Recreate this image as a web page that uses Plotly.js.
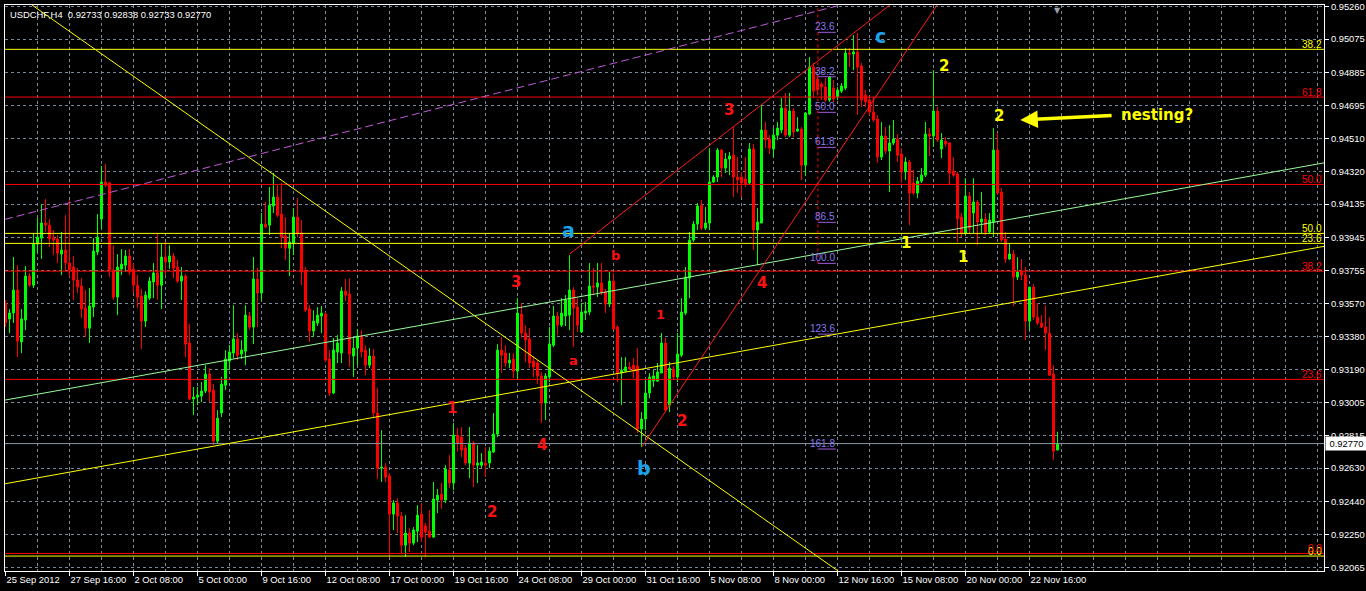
<!DOCTYPE html>
<html><head><meta charset="utf-8">
<script src="https://cdn.plot.ly/plotly-3.0.1.min.js"></script>
<style>html,body{margin:0;padding:0;background:#000;overflow:hidden}#chart{width:1366px;height:591px}</style>
</head><body><div id="chart"></div>
<script>
// ---------- DATA ----------
const tickBars = [0,16,32,48,64,80,96,112,128,144,160,176,192,208,224,240,256];
const tickLabels = ['25 Sep 2012','27 Sep 16:00','2 Oct 08:00','5 Oct 00:00','9 Oct 16:00','12 Oct 08:00','17 Oct 00:00','19 Oct 16:00','24 Oct 08:00','29 Oct 00:00','31 Oct 16:00','5 Nov 08:00','8 Nov 00:00','12 Nov 16:00','15 Nov 08:00','20 Nov 00:00','22 Nov 16:00'];
const gridBars = [8,24,40,56,72,88,104,120,136,152,168,184,200,216,232,248,264,272,280,288,296,304,312,320,328];
const priceTicks = [0.95260,0.95075,0.94885,0.94695,0.94510,0.94320,0.94135,0.93945,0.93755,0.93570,0.93380,0.93190,0.93005,0.92815,0.92630,0.92440,0.92250,0.92065];

const open = [
0.93571,0.93480,0.93514,0.93645,0.93349,0.93474,0.93725,0.93673,0.93907,0.93941,
0.94027,0.94015,0.93941,0.93936,0.93850,0.93873,0.93799,0.93776,0.93702,0.93668,
0.93542,0.93428,0.93548,0.93862,0.94050,0.94261,0.94255,0.93759,0.93605,0.93765,
0.93787,0.93839,0.93765,0.93673,0.93611,0.93468,0.93599,0.93691,0.93742,0.93673,
0.93833,0.93805,0.93839,0.93776,0.93696,0.93725,0.93343,0.93024,0.93035,0.93041,
0.93069,0.93166,0.93075,0.92784,0.92944,0.93103,0.93240,0.93286,0.93366,0.93280,
0.93297,0.93497,0.93434,0.93708,0.93628,0.94021,0.94015,0.94124,0.94175,0.94078,
0.93953,0.93884,0.93913,0.94061,0.93970,0.93759,0.93537,0.93411,0.93457,0.93497,
0.93508,0.93252,0.93058,0.93292,0.93286,0.93639,0.93622,0.93269,0.93314,0.93383,
0.93303,0.93217,0.93269,0.92944,0.92630,0.92636,0.92585,0.92368,0.92431,0.92357,
0.92191,0.92260,0.92203,0.92271,0.92368,0.92300,0.92271,0.92237,0.92448,0.92482,
0.92448,0.92619,0.92545,0.92818,0.92807,0.92744,0.92659,0.92773,0.92647,0.92647,
0.92659,0.92659,0.92722,0.92824,0.93303,0.93286,0.93229,0.93252,0.93183,0.93508,
0.93400,0.93366,0.93240,0.93229,0.93155,0.93001,0.93149,0.93331,0.93497,0.93445,
0.93497,0.93502,0.93645,0.93548,0.93406,0.93514,0.93520,0.93668,0.93662,0.93685,
0.93634,0.93565,0.93696,0.93434,0.93172,0.93183,0.93206,0.93217,0.93212,0.92853,
0.92910,0.93058,0.93126,0.93126,0.93172,0.93343,0.92989,0.93195,0.93149,0.93274,
0.93514,0.93713,0.93930,0.94021,0.94129,0.93998,0.94027,0.94261,0.94289,0.94443,
0.94340,0.94392,0.94414,0.94289,0.94289,0.94278,0.94255,0.94449,0.93987,0.94027,
0.94557,0.94506,0.94449,0.94528,0.94557,0.94682,0.94528,0.94665,0.94551,0.94563,
0.94357,0.94648,0.94916,0.94848,0.94819,0.94802,0.94728,0.94796,0.94745,0.94779,
0.94796,0.94996,0.94990,0.95002,0.94922,0.94756,0.94728,0.94660,0.94620,0.94403,
0.94523,0.94437,0.94483,0.94506,0.94420,0.94318,0.94375,0.94255,0.94198,0.94266,
0.94300,0.94534,0.94523,0.94665,0.94449,0.94494,0.94483,0.94323,0.94306,0.94061,
0.93970,0.94181,0.94084,0.94147,0.94033,0.94050,0.93976,0.94033,0.94443,0.94204,
0.93936,0.93822,0.93850,0.93719,0.93753,0.93730,0.93468,0.93662,0.93491,0.93457,
0.93434,0.93400,0.93166,0.92733];

const high = [
0.93588,0.93537,0.93833,0.93787,0.93537,0.93782,0.93742,0.93970,0.94055,0.94135,
0.94164,0.94050,0.93987,0.93958,0.93976,0.94072,0.94158,0.93839,0.93770,0.93713,
0.93645,0.93656,0.93941,0.94078,0.94352,0.94363,0.94261,0.93901,0.93850,0.93879,
0.93873,0.93879,0.93799,0.93730,0.93651,0.93639,0.93719,0.93799,0.93964,0.93907,
0.93919,0.93901,0.93856,0.93816,0.93776,0.93736,0.93451,0.93092,0.93092,0.93121,
0.93217,0.93200,0.93109,0.92961,0.93149,0.93303,0.93331,0.93559,0.93400,0.93360,
0.93559,0.93520,0.93833,0.93770,0.94084,0.94147,0.94232,0.94312,0.94243,0.94255,
0.94061,0.93970,0.94112,0.94169,0.94044,0.93776,0.93559,0.93531,0.93548,0.93554,
0.93520,0.93303,0.93371,0.93388,0.93662,0.93708,0.93713,0.93371,0.93423,0.93417,
0.93331,0.93314,0.93309,0.93086,0.92847,0.92659,0.92602,0.92448,0.92459,0.92380,
0.92362,0.92288,0.92294,0.92419,0.92431,0.92317,0.92391,0.92551,0.92511,0.92545,
0.92647,0.92704,0.92887,0.92858,0.92864,0.92761,0.92864,0.92784,0.92761,0.92716,
0.92750,0.92750,0.92944,0.93337,0.93377,0.93331,0.93286,0.93286,0.93599,0.93571,
0.93445,0.93428,0.93269,0.93246,0.93178,0.93172,0.93434,0.93554,0.93520,0.93599,
0.93616,0.93844,0.93662,0.93599,0.93571,0.93577,0.93799,0.93770,0.93799,0.93799,
0.93651,0.93748,0.93742,0.93445,0.93263,0.93263,0.93235,0.93257,0.93314,0.92950,
0.93132,0.93172,0.93189,0.93229,0.93400,0.93371,0.93235,0.93212,0.93400,0.93599,
0.93776,0.93976,0.94038,0.94141,0.94158,0.94118,0.94454,0.94300,0.94454,0.94449,
0.94426,0.94432,0.94574,0.94403,0.94318,0.94403,0.94483,0.94477,0.94112,0.94699,
0.94603,0.94528,0.94568,0.94603,0.94739,0.94768,0.94768,0.94682,0.94631,0.94574,
0.94660,0.94973,0.94939,0.94870,0.94831,0.94853,0.94865,0.94842,0.94802,0.94825,
0.95024,0.95024,0.95098,0.95110,0.94939,0.94785,0.94745,0.94745,0.94642,0.94603,
0.94574,0.94585,0.94614,0.94534,0.94454,0.94403,0.94386,0.94329,0.94289,0.94340,
0.94603,0.94568,0.94899,0.94688,0.94540,0.94517,0.94489,0.94403,0.94318,0.94084,
0.94283,0.94204,0.94283,0.94158,0.94204,0.94084,0.94084,0.94568,0.94540,0.94226,
0.93976,0.93913,0.93873,0.93833,0.93822,0.93776,0.93662,0.93679,0.93571,0.93502,
0.93559,0.93491,0.93217,0.92838];

const low = [
0.93434,0.93400,0.93457,0.93263,0.93286,0.93417,0.93662,0.93656,0.93856,0.93822,
0.93976,0.93890,0.93844,0.93799,0.93730,0.93759,0.93719,0.93588,0.93628,0.93485,
0.93377,0.93343,0.93491,0.93844,0.93993,0.94232,0.93719,0.93588,0.93502,0.93730,
0.93748,0.93730,0.93628,0.93542,0.93309,0.93434,0.93588,0.93599,0.93588,0.93537,
0.93730,0.93765,0.93713,0.93685,0.93588,0.93263,0.93018,0.92932,0.92989,0.93007,
0.93058,0.93007,0.92761,0.92767,0.92921,0.93075,0.93189,0.93257,0.93246,0.93252,
0.93217,0.93417,0.93337,0.93434,0.93582,0.93998,0.93958,0.94084,0.94061,0.93884,
0.93816,0.93725,0.93844,0.93947,0.93673,0.93520,0.93349,0.93377,0.93440,0.93400,
0.93235,0.93041,0.93052,0.93229,0.93229,0.93582,0.93206,0.93149,0.93217,0.93263,
0.93160,0.93200,0.92921,0.92568,0.92551,0.92551,0.92123,0.92277,0.92260,0.92146,
0.92123,0.92152,0.92191,0.92209,0.92209,0.92123,0.92231,0.92231,0.92374,0.92397,
0.92431,0.92516,0.92505,0.92722,0.92693,0.92647,0.92573,0.92522,0.92545,0.92630,
0.92579,0.92630,0.92716,0.92807,0.93172,0.93206,0.93200,0.93143,0.93132,0.93371,
0.93235,0.93200,0.93149,0.93109,0.92887,0.92904,0.93121,0.93320,0.93388,0.93434,
0.93440,0.93417,0.93320,0.93406,0.93400,0.93474,0.93502,0.93616,0.93605,0.93616,
0.93514,0.93548,0.93417,0.93121,0.92989,0.93178,0.93189,0.93143,0.92830,0.92750,
0.92847,0.93029,0.93092,0.93121,0.93172,0.92950,0.92950,0.93132,0.93121,0.93263,
0.93502,0.93599,0.93919,0.93987,0.93987,0.93987,0.93987,0.94255,0.94261,0.94289,
0.94312,0.94300,0.94175,0.94198,0.94175,0.94232,0.94249,0.93873,0.93787,0.94027,
0.94454,0.94420,0.94403,0.94500,0.94540,0.94517,0.94517,0.94517,0.94546,0.94272,
0.94300,0.94642,0.94739,0.94756,0.94728,0.94717,0.94717,0.94717,0.94728,0.94768,
0.94785,0.94916,0.94899,0.94642,0.94688,0.94688,0.94642,0.94603,0.94369,0.94386,
0.94420,0.94204,0.94471,0.94375,0.94255,0.94272,0.94015,0.94186,0.94169,0.94255,
0.94289,0.94409,0.94460,0.94489,0.94397,0.94460,0.94249,0.94289,0.93919,0.93947,
0.93958,0.93970,0.93970,0.93901,0.93970,0.93958,0.93970,0.93947,0.94186,0.93919,
0.93799,0.93816,0.93554,0.93702,0.93702,0.93360,0.93417,0.93474,0.93445,0.93428,
0.93303,0.93155,0.92676,0.92733];

const close = [
0.93457,0.93514,0.93645,0.93354,0.93480,0.93725,0.93673,0.93907,0.93947,0.94027,
0.94015,0.93936,0.93930,0.93856,0.93873,0.93799,0.93759,0.93702,0.93662,0.93537,
0.93428,0.93554,0.93867,0.93947,0.94261,0.94243,0.93759,0.93605,0.93776,0.93793,
0.93839,0.93748,0.93673,0.93605,0.93468,0.93616,0.93696,0.93742,0.93673,0.93833,
0.93805,0.93839,0.93770,0.93696,0.93725,0.93337,0.93024,0.93035,0.93046,0.93069,
0.93166,0.93064,0.92784,0.92915,0.93109,0.93252,0.93292,0.93366,0.93274,0.93303,
0.93502,0.93434,0.93708,0.93628,0.94021,0.94004,0.94129,0.94175,0.94072,0.93947,
0.93884,0.93919,0.94061,0.93970,0.93748,0.93531,0.93411,0.93468,0.93502,0.93514,
0.93246,0.93058,0.93303,0.93343,0.93639,0.93616,0.93280,0.93314,0.93383,0.93292,
0.93217,0.93269,0.92944,0.92630,0.92636,0.92579,0.92368,0.92431,0.92357,0.92191,
0.92260,0.92203,0.92277,0.92362,0.92237,0.92266,0.92237,0.92454,0.92476,0.92448,
0.92625,0.92545,0.92818,0.92773,0.92733,0.92659,0.92773,0.92647,0.92659,0.92665,
0.92647,0.92727,0.92824,0.93303,0.93274,0.93229,0.93246,0.93183,0.93514,0.93400,
0.93360,0.93229,0.93206,0.93155,0.93001,0.93155,0.93337,0.93497,0.93445,0.93514,
0.93588,0.93645,0.93542,0.93445,0.93520,0.93525,0.93668,0.93662,0.93685,0.93628,
0.93565,0.93696,0.93423,0.93172,0.93189,0.93206,0.93195,0.93183,0.92853,0.92910,
0.93058,0.93149,0.93155,0.93178,0.93343,0.92961,0.93200,0.93149,0.93280,0.93520,
0.93719,0.93930,0.94021,0.94124,0.93998,0.94027,0.94261,0.94289,0.94443,0.94340,
0.94392,0.94409,0.94289,0.94272,0.94255,0.94249,0.94449,0.93987,0.94033,0.94557,
0.94500,0.94454,0.94528,0.94568,0.94682,0.94528,0.94665,0.94546,0.94563,0.94357,
0.94654,0.94916,0.94779,0.94785,0.94802,0.94728,0.94859,0.94734,0.94785,0.94808,
0.94996,0.94990,0.95002,0.94916,0.94728,0.94717,0.94660,0.94614,0.94403,0.94523,
0.94437,0.94483,0.94506,0.94414,0.94318,0.94375,0.94198,0.94198,0.94266,0.94300,
0.94534,0.94523,0.94665,0.94500,0.94500,0.94477,0.94312,0.94300,0.94050,0.93970,
0.94181,0.93998,0.94147,0.94033,0.94050,0.93976,0.94044,0.94443,0.94198,0.93930,
0.93822,0.93850,0.93719,0.93748,0.93730,0.93468,0.93662,0.93491,0.93457,0.93434,
0.93400,0.93160,0.92727,0.92770];

// Fibonacci level sets
const yellowFibLevels = ['38.2','50.0','23.6','0.0'];
const yellowFibPrices = [0.95017,0.93968,0.93911,0.92129];
const redFibLevels = ['61.8','50.0','38.2','23.6','0.0'];
const redFibPrices = [0.94745,0.94247,0.93753,0.93136,0.92144];
const purpleFibLevels = ['23.6','38.2','50.0','61.8','86.5','100.0','123.6','161.8'];
const purpleFibPrices = [0.95114,0.94861,0.94658,0.94458,0.94031,0.93797,0.93394,0.92739];
const purpleFibBars = [203.1, 207.6];

// Trend lines: [bar, price] pairs
const yellowDownLine = [[6.6,0.95270],[208.2,0.92043]];
const greenChannelLine = [[-0.125,0.93018],[329.625,0.94370]];
const yellowUpLine = [[-0.125,0.92541],[329.625,0.93894]];
const purpleDashLine = [[-0.125,0.94048],[208.9,0.95270]];
const redUpperLine = [[141.0,0.93850],[221.1,0.95270]];
const redLowerLine = [[159.1,0.92752],[232.9,0.95270]];
const bidPrice = 0.92770;

// Wave labels
const redBigText = ['3','4','1','2','2','3','4'];
const redBigBars = [127.7,134.1,111.6,121.7,169.1,180.75,189.1];
const redBigPrices = [0.93692,0.92761,0.92971,0.92380,0.92900,0.94671,0.93687];
const redSmallText = ['a','b','1'];
const redSmallBars = [142.0,152.4,163.85];
const redSmallPrices = [0.93246,0.93844,0.93506];
const blueText = ['a','b','c'];
const blueBars = [140.7,159.7,218.7];
const bluePrices = [0.93987,0.92630,0.95093];
const yellowText = ['2','2','1','1'];
const yellowBars = [234.7,248.3,225.2,239.35];
const yellowPrices = [0.94922,0.94637,0.93913,0.93831];
const noteText = 'nesting?';
const notePos = [287.9, 0.94643];
const arrowHead = [253.7, 0.94614];
const arrowTail = [276.9, 0.94640];
const headerText = 'USDCHF,H4\u00a0\u00a00.92733 0.92838 0.92733 0.92770';

// ---------- CHART ----------
const bars = open.map((_, i) => i);
const GRID = '#778899';
const AXFONT = {family:'Liberation Sans, Arial, sans-serif', size:9.4, color:'#ffffff'};

const candle = {
  type:'candlestick', x:bars, open:open, high:high, low:low, close:close,
  increasing:{line:{color:'#00ff00', width:1}, fillcolor:'#00ff00'},
  decreasing:{line:{color:'#ff0000', width:1}, fillcolor:'#ff0000'},
  whiskerwidth:0, hoverinfo:'skip', showlegend:false
};

const shapes = [];
function line(x0,y0,x1,y1,color,dash,xref){
  shapes.push({type:'line', xref:xref||'x', yref:'y', x0:x0, y0:y0, x1:x1, y1:y1,
    line:{color:color, width:1, dash:dash||'solid'}, layer:'above'});
}
line(0,bidPrice,1,bidPrice,'#8a96a3','solid','paper');
yellowFibPrices.forEach(p => line(0,p,1,p,'#ffff00','solid','paper'));
redFibPrices.forEach(p => line(0,p,1,p,'#ff0000','solid','paper'));
purpleFibPrices.forEach(p => line(purpleFibBars[0],p,purpleFibBars[1],p,'#a05ad8'));
line(purpleFibBars[0],purpleFibPrices[5],purpleFibBars[0],0.9535,'#ff0000','3px,3px');
[[yellowDownLine,'#ffff00','solid'],[greenChannelLine,'#98fb98','solid'],[yellowUpLine,'#ffff00','solid'],
 [purpleDashLine,'#c05ad8','8px,4px'],[redUpperLine,'#ff1a1a','solid'],[redLowerLine,'#ff1a1a','solid']]
 .forEach(([pts,c,d]) => line(pts[0][0],pts[0][1],pts[1][0],pts[1][1],c,d));

const ann = [];
function fibLabel(text,price,color){
  ann.push({xref:'paper', yref:'y', x:1, y:price, xanchor:'right', yanchor:'bottom', xshift:-1, yshift:-2,
    text:text, showarrow:false, font:{family:'Liberation Sans, Arial', size:10, color:color}, borderpad:0});
}
yellowFibLevels.forEach((t,i) => fibLabel(t,yellowFibPrices[i],'#ffff00'));
redFibLevels.forEach((t,i) => fibLabel(t,redFibPrices[i],'#ff0000'));
purpleFibLevels.forEach((t,i) => ann.push({xref:'x', yref:'y', x:purpleFibBars[1], y:purpleFibPrices[i],
  xanchor:'right', yanchor:'bottom', yshift:-1, text:t, showarrow:false, borderpad:0,
  font:{family:'Liberation Sans, Arial', size:10, color:'#8878f0'}}));

function waveLabels(texts,bx,py,color,size){
  texts.forEach((t,i) => ann.push({xref:'x', yref:'y', x:bx[i], y:py[i], xanchor:'center', yanchor:'middle',
    text:t, showarrow:false, font:{family:'DejaVu Sans, sans-serif', size:size, color:color, weight:'bold'}}));
}
waveLabels(redBigText, redBigBars, redBigPrices, '#ff1010', 15);
waveLabels(redSmallText, redSmallBars, redSmallPrices, '#ff1010', 13);
waveLabels(blueText, blueBars, bluePrices, '#1ca3ec', 19);
waveLabels(yellowText, yellowBars, yellowPrices, '#ffff00', 15);
ann.push({xref:'x', yref:'y', x:notePos[0], y:notePos[1], xanchor:'center', yanchor:'middle', text:noteText,
  showarrow:false, font:{family:'DejaVu Sans, sans-serif', size:15, color:'#ffff00', weight:'bold'}});
ann.push({xref:'x', yref:'y', x:arrowHead[0], y:arrowHead[1], axref:'x', ayref:'y', ax:arrowTail[0], ay:arrowTail[1],
  text:'', showarrow:true, arrowhead:2, arrowsize:1, arrowwidth:3.5, arrowcolor:'#ffff00', standoff:0});
ann.push({xref:'paper', yref:'paper', x:0, y:1, xanchor:'left', yanchor:'top', xshift:3, yshift:-2,
  text:headerText, showarrow:false, font:{family:'Liberation Sans, Arial', size:9.4, color:'#ffffff'}});
ann.push({xref:'paper', yref:'y', x:1, y:bidPrice, xanchor:'left', yanchor:'middle', xshift:1,
  text:bidPrice.toFixed(5), showarrow:false, bgcolor:'#ffffff', width:39, align:'center', borderpad:1,
  font:{family:'Liberation Sans, Arial', size:9.4, color:'#000000'}});
ann.push({xref:'x', yref:'paper', x:263.1, y:1, xanchor:'center', yanchor:'top', yshift:1,
  text:'\u25BC', showarrow:false, font:{family:'DejaVu Sans', size:8, color:'#9aa4ae'}});

const layout = {
  width:1366, height:591,
  paper_bgcolor:'#000000', plot_bgcolor:'#000000',
  margin:{l:5, r:42, t:5, b:20, pad:0, autoexpand:false},
  showlegend:false, boxgap:0.5, boxgroupgap:0, hovermode:false,
  xaxis:{
    range:[-0.125, 329.625], type:'linear', rangeslider:{visible:false},
    tickmode:'array', tickvals:tickBars, ticktext:tickLabels, tickangle:0, automargin:false,
    ticks:'outside', ticklen:4, tickcolor:'#ffffff', tickwidth:1,
    ticklabelposition:'outside right', tickfont:AXFONT,
    showgrid:true, gridcolor:GRID, gridwidth:1, griddash:'3px,3px',
    minor:{tickmode:'array', tickvals:gridBars, showgrid:true, gridcolor:GRID, gridwidth:1, griddash:'3px,3px', ticks:''},
    showline:true, linecolor:'#ffffff', linewidth:1, mirror:true, zeroline:false, fixedrange:true
  },
  yaxis:{
    range:[0.920438, 0.952697], side:'right', automargin:false,
    tickmode:'array', tickvals:priceTicks, ticktext:priceTicks.map(v => v.toFixed(5)),
    ticks:'outside', ticklen:4, tickcolor:'#ffffff', tickwidth:1, tickfont:AXFONT,
    showgrid:true, gridcolor:GRID, gridwidth:1, griddash:'3px,3px',
    showline:true, linecolor:'#ffffff', linewidth:1, mirror:true, zeroline:false, fixedrange:true
  },
  shapes:shapes, annotations:ann
};

Plotly.newPlot('chart', [candle], layout, {displayModeBar:false, staticPlot:true});
</script>
</body></html>
